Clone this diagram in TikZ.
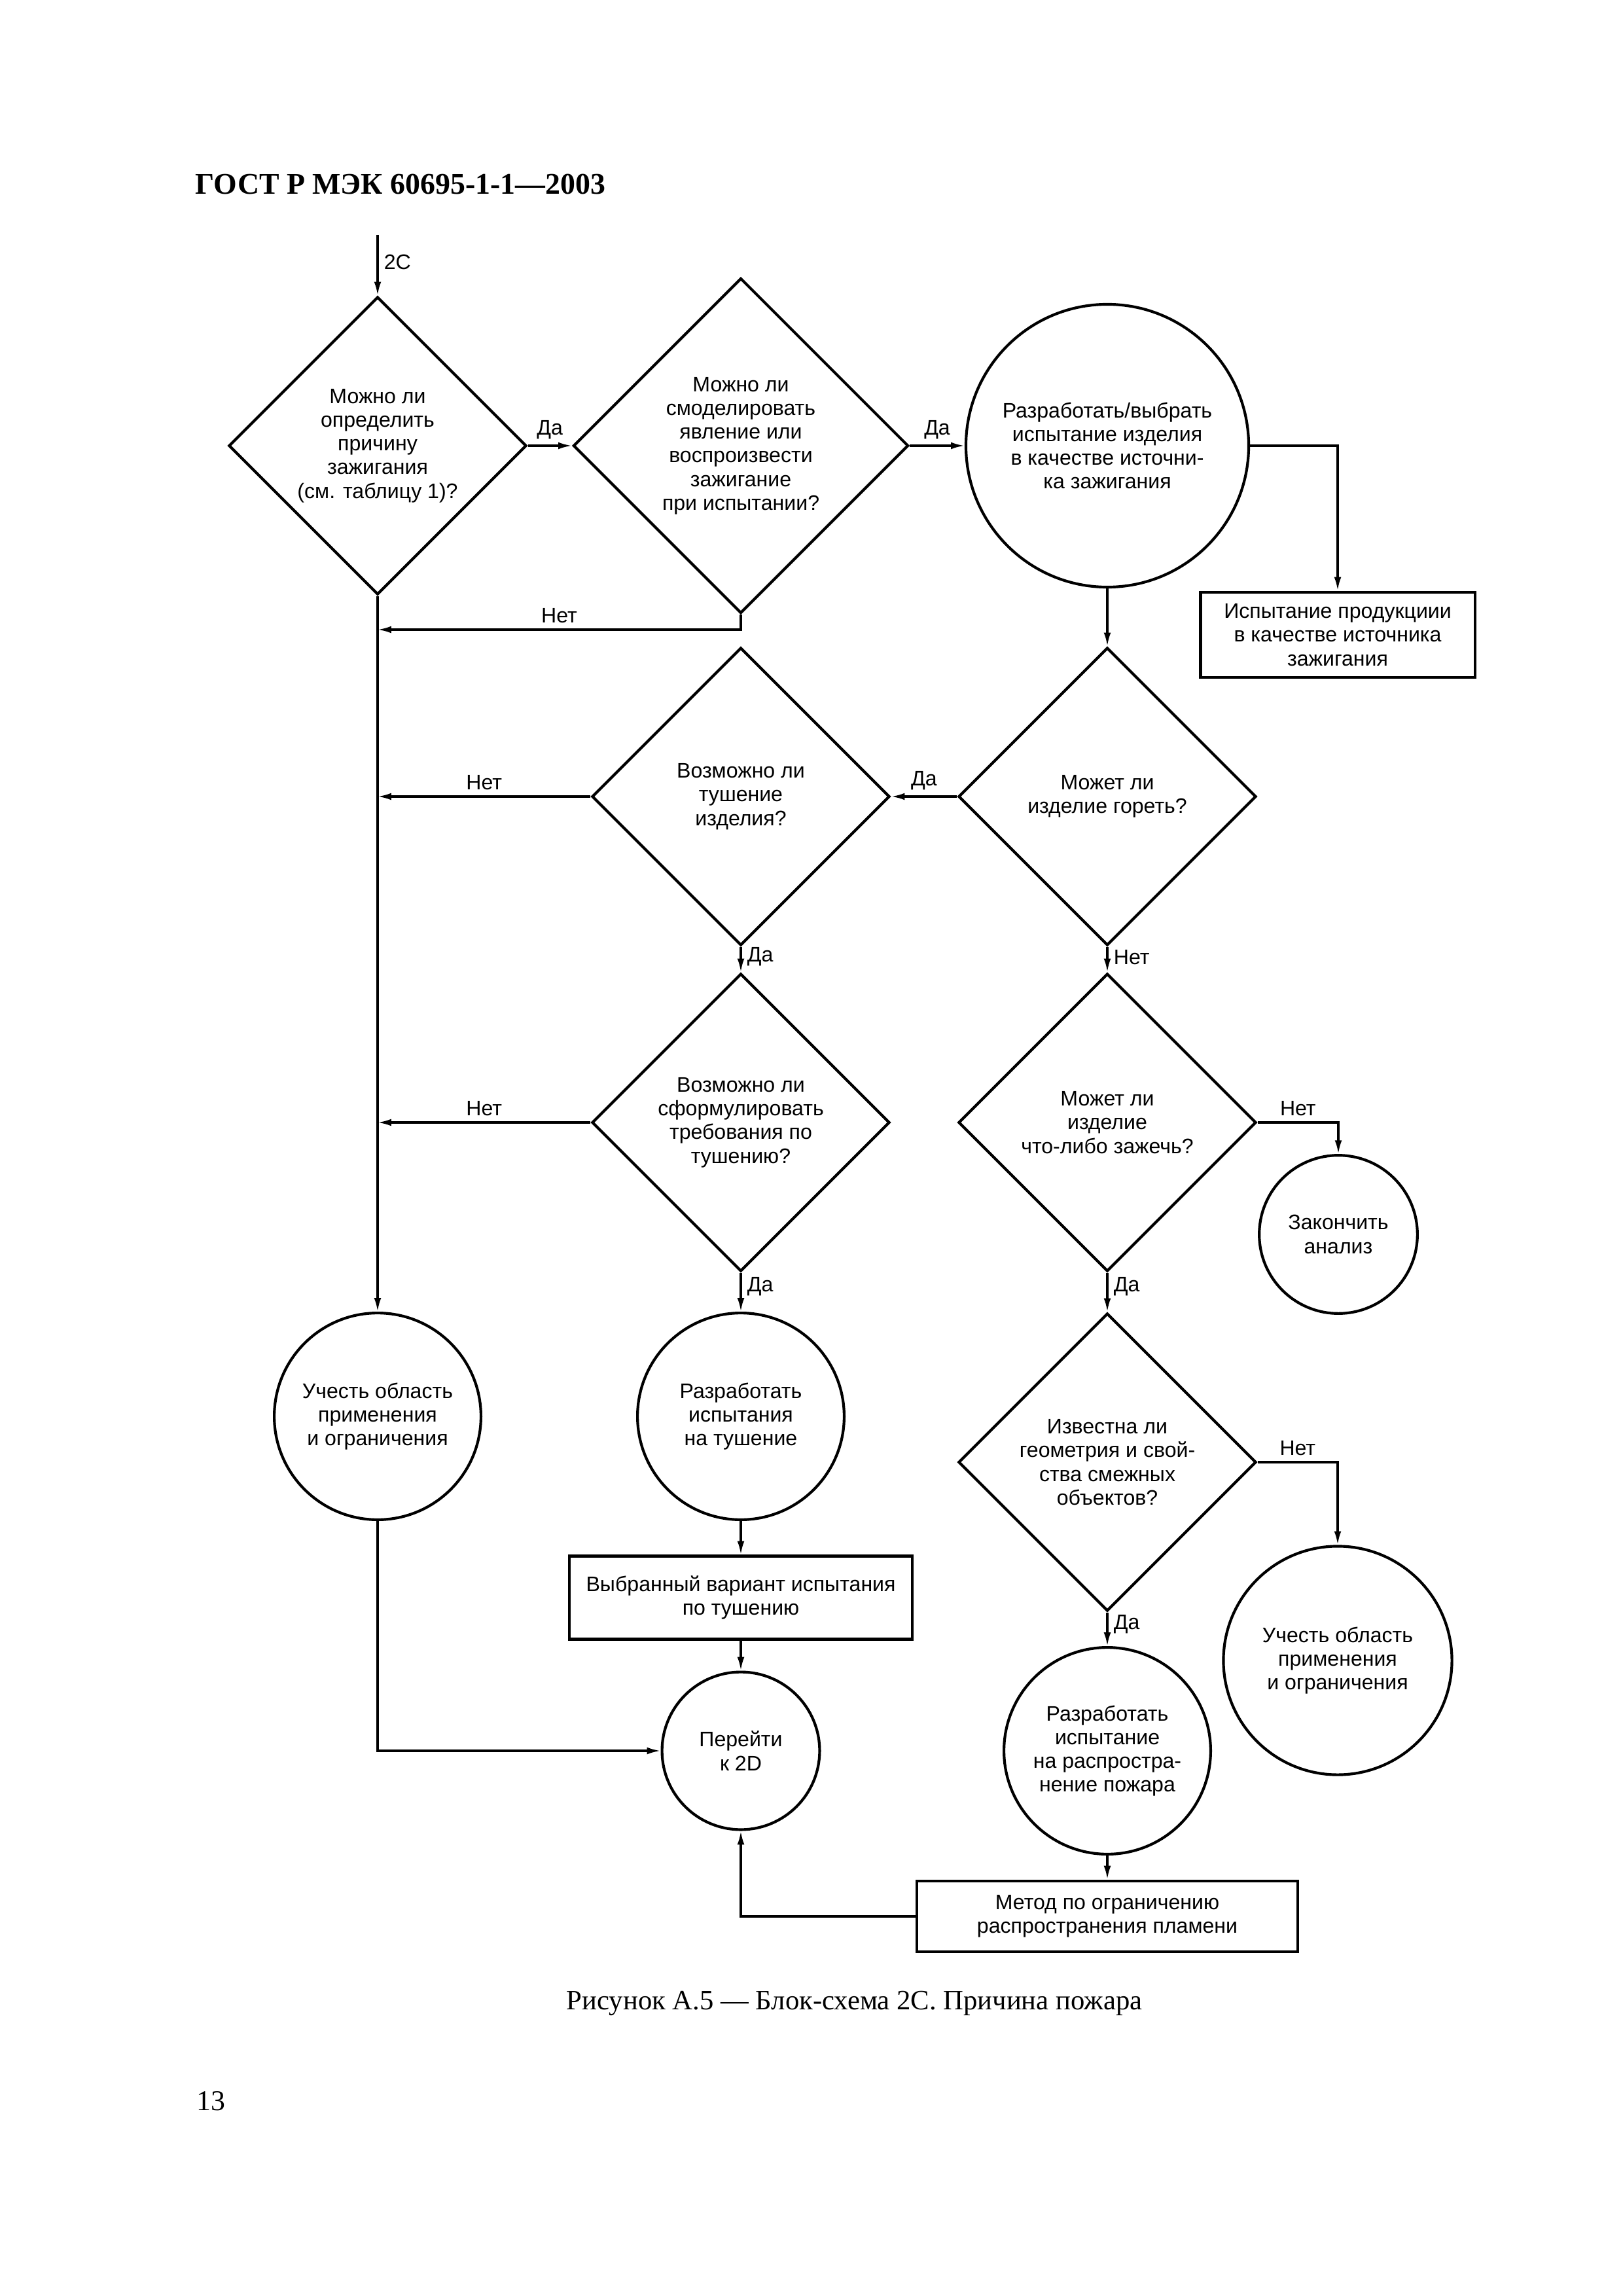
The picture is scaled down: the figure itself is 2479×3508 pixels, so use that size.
\documentclass[tikz,border=0pt]{standalone}
\usepackage{fontspec}
\setmainfont{Liberation Serif}
\newfontfamily\diagfont{Liberation Sans}
\usetikzlibrary{shapes.geometric,arrows.meta}
\newcommand{\diagtext}{\diagfont\fontsize{7.7}{8.7}\selectfont}
\tikzset{
    base/.style={draw, line width=1pt, inner sep=0pt, align=center, font=\diagtext},
    decision/.style={base, diamond, minimum width=#1, minimum height=#1},
    decision/.default=109.2pt,
    term/.style={base, circle, minimum size=#1},
    term/.default=75.8pt,
    block/.style={base, rectangle, minimum width=#1},
    flow/.style={line width=0.75pt, -{Latex[length=5pt,width=2.6pt]}},
    lbl/.style={font=\diagtext, inner sep=2pt},
    pagetext/.style={anchor=base west, inner sep=0pt}
}

\begin{document}
\begin{tikzpicture}[x=0.24pt, y=-0.24pt]
	\useasboundingbox (0,0) rectangle (2479,3508);

	% Page header, caption and number
	\node[pagetext, font=\fontsize{11}{13}\selectfont\bfseries] (header) at (298,297) {ГОСТ Р МЭК 60695-1-1—2003};
	\node[pagetext, font=\fontsize{10.25}{12}\selectfont] (caption) at (865,3070) {Рисунок А.5 — Блок-схема 2С. Причина пожара};
	\node[pagetext, font=\fontsize{10.5}{12}\selectfont] (pageno) at (300,3224) {13};

	% Top row
	\node[decision] (cause) at (577,681) {Можно ли\\определить\\причину\\зажигания\\(см. таблицу 1)?};
	\node[decision=122.9pt] (model) at (1132,681) {Можно ли\\смоделировать\\явление или\\воспроизвести\\зажигание\\при испытании?};
	\node[term=103.7pt] (design) at (1692,681) {Разработать/выбрать\\испытание изделия\\в качестве источни-\\ка зажигания};
	\node[block=100.6pt, minimum height=31.4pt] (prodtest) at (2044,970) {Испытание продукциии\\в качестве источника\\зажигания};

	% Middle rows
	\node[decision] (burn) at (1692,1217) {Может ли\\изделие гореть?};
	\node[decision] (extinct) at (1132,1217) {Возможно ли\\тушение\\изделия?};
	\node[decision] (require) at (1132,1715) {Возможно ли\\сформулировать\\требования по\\тушению?};
	\node[decision] (ignite) at (1692,1715) {Может ли\\изделие\\что-либо зажечь?};
	\node[term=58pt] (finish) at (2045,1886) {Закончить\\анализ};
	\node[decision] (geometry) at (1692,2234) {Известна ли\\геометрия и свой-\\ства смежных\\объектов?};

	% Bottom rows
	\node[term] (scopeL) at (577,2164) {Учесть область\\применения\\и ограничения};
	\node[term] (extdesign) at (1132,2164) {Разработать\\испытания\\на тушение};
	\node[block=125.8pt, minimum height=30.5pt] (extchoice) at (1132,2441) {Выбранный вариант испытания\\по тушению};
	\node[term=83.8pt] (scopeR) at (2044,2537) {Учесть область\\применения\\и ограничения};
	\node[term=57.8pt] (goto) at (1132,2675) {Перейти\\к 2D};
	\node[term] (spread) at (1692,2675) {Разработать\\испытание\\на распростра-\\нение пожара};
	\node[block=139.6pt, minimum height=26.1pt] (method) at (1692,2928) {Метод по ограничению\\распространения пламени};

	% Join points on the left line
	\coordinate (entry) at (577,359);
	\coordinate (joinA) at (577,962);
	\coordinate (joinB) at (577,1217);
	\coordinate (joinC) at (577,1715);

	% Connectors
	\draw[flow] (entry) -- node[lbl, right, pos=0.45] {2С} (cause);
	\draw[flow] (cause) -- node[lbl, above] {Да} (model);
	\draw[flow] (model) -- node[lbl, above] {Да} (design);
	\draw[flow] (design.east) -| (prodtest.north);
	\draw[flow] (design) -- (burn);
	\draw[flow] (model.south) |- node[lbl, above, pos=0.75] {Нет} (joinA);
	\draw[flow] (cause) -- (scopeL);
	\draw[flow] (burn) -- node[lbl, above] {Да} (extinct);
	\draw[flow] (extinct) -- node[lbl, above] {Нет} (joinB);
	\draw[flow] (extinct) -- node[lbl, right, pos=0.4] {Да} (require);
	\draw[flow] (burn) -- node[lbl, right, pos=0.4] {Нет} (ignite);
	\draw[flow] (require) -- node[lbl, above] {Нет} (joinC);
	\draw[flow] (require) -- node[lbl, right, pos=0.35] {Да} (extdesign);
	\draw[flow] (ignite.east) -| node[lbl, above, pos=0.25] {Нет} (finish.north);
	\draw[flow] (ignite) -- node[lbl, right, pos=0.35] {Да} (geometry);
	\draw[flow] (geometry.east) -| node[lbl, above, pos=0.25] {Нет} (scopeR.north);
	\draw[flow] (geometry) -- node[lbl, right, pos=0.35] {Да} (spread);
	\draw[flow] (extdesign) -- (extchoice);
	\draw[flow] (extchoice) -- (goto);
	\draw[flow] (scopeL.south) |- (goto.west);
	\draw[flow] (spread) -- (method);
	\draw[flow] (method.west) -| (goto.south);
\end{tikzpicture}
\end{document}
